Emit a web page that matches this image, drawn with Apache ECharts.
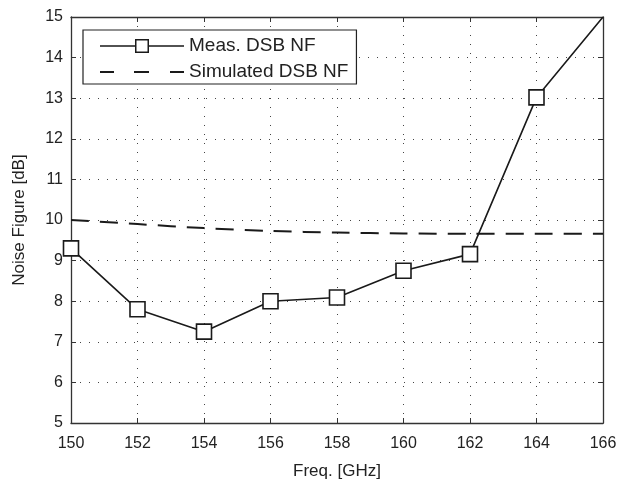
<!DOCTYPE html>
<html>
<head>
<meta charset="utf-8">
<script src="https://cdn.jsdelivr.net/npm/echarts@6/dist/echarts.min.js"></script>
<style>
html,body{margin:0;padding:0;background:#fff;}
#c{width:620px;height:481px;}
</style>
</head>
<body>
<div id="c"></div>
<script>
const freqs = [150, 152, 154, 156, 158, 160, 162, 164, 166];
const measNF = [9.3, 7.8, 7.25, 8.0, 8.09, 8.75, 9.16, 13.02, 15.0];
const simNF = [10.0, 9.9, 9.8, 9.73, 9.69, 9.67, 9.66, 9.66, 9.66];
const seriesNames = ['Meas. DSB NF', 'Simulated DSB NF'];
const xTitle = 'Freq. [GHz]';
const yTitle = 'Noise Figure [dB]';

const FONT = 'Liberation Sans, Arial, sans-serif';
const TXT = '#222';
const AX = '#333';

const measData = freqs.map((f, i) => {
  const p = { value: [f, measNF[i]] };
  if (f === 166) p.symbol = 'none';
  return p;
});
const simData = freqs.map((f, i) => [f, simNF[i]]);

// legend icons (84 x 15 box)
const measIcon = 'path://M0,6.8H35V8.2H0Z M49,6.8H84V8.2H49Z M35,0.5H49V2H35Z M35,13H49V14.5H35Z M35,0.5H36.5V14.5H35Z M47.5,0.5H49V14.5H47.5Z';
const simIcon = 'path://M0,0L0.01,0Z M0,6.5H14V8.5H0Z M34,6.5H49V8.5H34Z M70,6.5H84V8.5H70Z M84,15L83.99,15Z';

const chart = echarts.init(document.getElementById('c'), null, { renderer: 'canvas' });

const baseX = {
  type: 'value', min: 150, max: 166, interval: 2,
  axisLine: { show: true, onZero: false, lineStyle: { color: AX, width: 1.3 } },
  axisTick: { show: true, inside: true, length: 5, lineStyle: { color: AX, width: 1 } },
  splitLine: { show: false }
};
const baseY = {
  type: 'value', min: 5, max: 15, interval: 1,
  axisLine: { show: true, onZero: false, lineStyle: { color: AX, width: 1.3 } },
  axisTick: { show: true, inside: true, length: 5, lineStyle: { color: AX, width: 1 } },
  splitLine: { show: false }
};

chart.setOption({
  animation: false,
  backgroundColor: '#fff',
  grid: { left: 71, right: 17, top: 17, bottom: 58, containLabel: false, outerBoundsMode: 'none' },
  xAxis: [
    Object.assign({}, baseX, {
      position: 'bottom',
      name: xTitle, nameLocation: 'middle', nameGap: 40,
      nameTextStyle: { fontFamily: FONT, fontSize: 17, color: TXT },
      axisLabel: { fontFamily: FONT, fontSize: 16, color: TXT, margin: 13 },
      splitLine: { show: true, lineStyle: { color: '#444', width: 1, type: [1, 8] } }
    }),
    Object.assign({}, baseX, { position: 'top', axisLabel: { show: false } })
  ],
  yAxis: [
    Object.assign({}, baseY, {
      position: 'left',
      name: yTitle, nameLocation: 'middle', nameGap: 43,
      nameTextStyle: { fontFamily: FONT, fontSize: 17, color: TXT },
      axisLabel: { fontFamily: FONT, fontSize: 16, color: TXT, margin: 8 },
      splitLine: { show: true, lineStyle: { color: '#444', width: 1, type: [1, 8] } }
    }),
    Object.assign({}, baseY, { position: 'right', axisLabel: { show: false } })
  ],
  legend: {
    left: 83, top: 30,
    orient: 'vertical',
    backgroundColor: '#fff',
    borderColor: '#222', borderWidth: 1.2,
    padding: [6, 8, 2, 17],
    itemGap: 6,
    itemWidth: 84, itemHeight: 15,
    textStyle: { fontFamily: FONT, fontSize: 19, color: TXT, lineHeight: 20 },
    data: [
      { name: seriesNames[0], icon: measIcon, itemStyle: { color: '#1a1a1a', borderWidth: 0 } },
      { name: seriesNames[1], icon: simIcon, itemStyle: { color: '#1a1a1a', borderWidth: 0 } }
    ]
  },
  series: [
    {
      name: seriesNames[0], type: 'line',
      xAxisIndex: 0, yAxisIndex: 0,
      data: measData,
      symbol: 'rect', symbolSize: 15,
      itemStyle: { color: '#fff', borderColor: '#1a1a1a', borderWidth: 1.6 },
      lineStyle: { color: '#1a1a1a', width: 1.6 },
      clip: true,
      z: 3
    },
    {
      name: seriesNames[1], type: 'line',
      xAxisIndex: 0, yAxisIndex: 0,
      data: simData,
      smooth: 0.3,
      symbol: 'none',
      itemStyle: { color: '#1a1a1a' },
      lineStyle: { color: '#1a1a1a', width: 2, type: [18, 11] },
      z: 2
    }
  ]
});
</script>
</body>
</html>
